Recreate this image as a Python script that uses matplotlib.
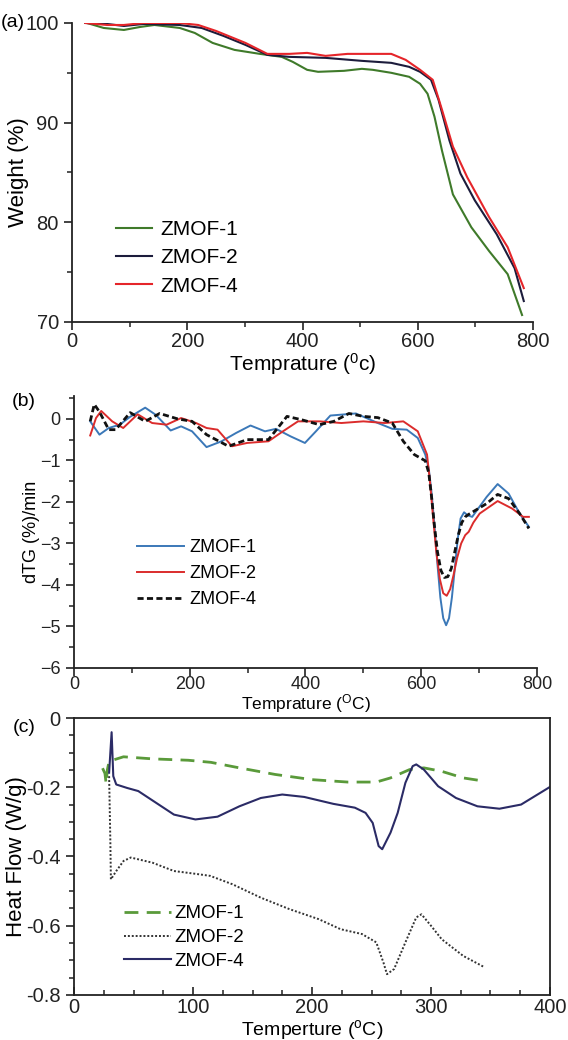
import matplotlib
matplotlib.use("Agg")
import matplotlib.pyplot as plt
from matplotlib.ticker import MultipleLocator

plt.rcParams['font.family'] = ['Liberation Sans', 'DejaVu Sans']
plt.rcParams['mathtext.fontset'] = 'custom'
plt.rcParams['mathtext.rm'] = 'Liberation Sans'
plt.rcParams['mathtext.default'] = 'regular'

## (a) TGA weight loss
tga1_t = [26, 55, 90, 118, 143, 187, 213, 244, 282, 326, 364, 383, 408, 427, 472, 503, 522,
          554, 585, 604, 617, 629, 642, 661, 693, 724, 756, 781]
tga1_w = [100.0, 99.5, 99.3, 99.6, 99.8, 99.5, 99.0, 98.0, 97.3, 96.9, 96.6, 96.1, 95.3, 95.1,
          95.2, 95.4, 95.3, 95.0, 94.6, 93.9, 92.9, 90.6, 87.2, 82.8, 79.5, 77.1, 74.8, 70.7]
tga2_t = [23, 61, 90, 124, 187, 225, 263, 301, 339, 377, 440, 503, 554, 585, 604, 623, 636,
          655, 674, 699, 737, 768, 784]
tga2_w = [100.0, 99.9, 99.7, 99.9, 99.8, 99.5, 98.7, 97.8, 96.8, 96.6, 96.5, 96.2, 96.0, 95.6,
          95.1, 94.3, 92.3, 88.2, 84.9, 82.2, 78.8, 75.4, 72.1]
tga4_t = [23, 61, 90, 124, 187, 219, 250, 301, 339, 377, 408, 440, 478, 554, 579, 604, 626,
          642, 661, 686, 724, 756, 784]
tga4_w = [100.0, 99.8, 99.8, 100.0, 100.0, 99.8, 99.2, 98.0, 96.9, 96.9, 97.0, 96.7, 96.9,
          96.9, 96.3, 95.3, 94.3, 91.3, 87.6, 84.5, 80.5, 77.5, 73.4]

## (b) derivative curves
dtg1_t = [28, 44, 60, 79, 97, 123, 141, 167, 185, 204, 229, 255, 280, 305, 330, 349, 374, 399,
          418, 443, 487, 525, 550, 575, 594, 607, 613, 618, 623, 628, 633, 638, 643, 648, 653,
          658, 663, 668, 674, 680, 688, 713, 732, 751, 770, 786]
dtg1_v = [-0.06, -0.38, -0.22, -0.14, 0.05, 0.27, 0.1, -0.28, -0.18, -0.3, -0.68, -0.54, -0.34,
          -0.16, -0.3, -0.24, -0.42, -0.58, -0.3, 0.08, 0.13, -0.1, -0.24, -0.26, -0.46, -0.86,
          -1.2, -1.8, -2.6, -3.5, -4.3, -4.8, -4.97, -4.8, -4.3, -3.6, -2.9, -2.4, -2.25, -2.32,
          -2.36, -1.88, -1.57, -1.8, -2.28, -2.6]
dtg2_t = [28, 38, 47, 66, 85, 110, 135, 160, 185, 211, 229, 248, 273, 299, 336, 361, 387, 424,
          462, 500, 537, 569, 594, 610, 615, 620, 626, 632, 638, 644, 650, 656, 662, 669, 676,
          682, 690, 701, 732, 757, 776, 786]
dtg2_v = [-0.4, 0.02, 0.19, -0.06, -0.22, 0.11, -0.1, -0.14, 0.02, -0.1, -0.22, -0.26, -0.66,
          -0.58, -0.54, -0.3, -0.06, -0.06, -0.1, -0.06, -0.1, -0.06, -0.3, -0.86, -1.5, -2.3,
          -3.2, -3.85, -4.2, -4.26, -4.1, -3.75, -3.35, -3.0, -2.8, -2.72, -2.5, -2.28, -1.98,
          -2.16, -2.36, -2.36]
dtg4_t = [28, 35, 44, 60, 72, 97, 123, 148, 179, 204, 229, 267, 299, 336, 368, 393, 424, 449,
          475, 500, 525, 550, 569, 588, 607, 613, 618, 623, 628, 634, 640, 646, 652, 658, 664,
          670, 676, 682, 713, 732, 751, 770, 786]
dtg4_v = [-0.06, 0.35, 0.17, -0.26, -0.26, 0.15, -0.06, 0.13, 0.0, -0.06, -0.38, -0.66, -0.5,
          -0.5, 0.06, -0.02, -0.14, -0.06, 0.13, 0.06, 0.03, -0.1, -0.54, -0.86, -1.01, -1.3,
          -1.9, -2.6, -3.2, -3.65, -3.82, -3.8, -3.6, -3.2, -2.8, -2.5, -2.36, -2.3, -2.04,
          -1.82, -1.92, -2.28, -2.64]

## (c) DSC heat flow
dsc1_t = [24, 26, 27, 28, 29.5, 41.6, 66, 96, 115, 139, 169, 200, 230, 254, 266, 282, 294,
          309, 327, 344]
dsc1_v = [-0.145, -0.16, -0.19, -0.15, -0.125, -0.112, -0.118, -0.122, -0.128, -0.144, -0.163,
          -0.178, -0.185, -0.185, -0.173, -0.149, -0.144, -0.154, -0.173, -0.182]
dsc2_t = [29.5, 30.5, 31, 35.5, 41.6, 47.7, 66, 84, 102, 114.5, 133, 157, 181, 205.6, 224, 242,
          254, 260, 263, 269, 278.5, 287.6, 292, 300, 309, 327, 345]
dsc2_v = [-0.168, -0.35, -0.466, -0.442, -0.413, -0.403, -0.418, -0.442, -0.45, -0.456, -0.48,
          -0.519, -0.552, -0.581, -0.61, -0.624, -0.648, -0.706, -0.74, -0.725, -0.648, -0.576,
          -0.567, -0.6, -0.639, -0.687, -0.72]
dsc4_t = [29.5, 31.6, 33, 35.5, 44.6, 54, 69, 84, 102, 120.6, 139, 157, 175, 193.5, 218, 236,
          245, 251, 256, 259, 266, 272, 278.5, 284.6, 287.6, 294, 306, 321, 339, 357.5, 375.7,
          400]
dsc4_v = [-0.158, -0.041, -0.168, -0.192, -0.202, -0.211, -0.245, -0.279, -0.293, -0.285,
          -0.255, -0.231, -0.221, -0.228, -0.248, -0.259, -0.274, -0.303, -0.37, -0.379, -0.331,
          -0.274, -0.187, -0.139, -0.134, -0.149, -0.197, -0.231, -0.255, -0.262, -0.25, -0.199]

labels = ['ZMOF-1', 'ZMOF-2', 'ZMOF-4']


def style_axis(ax, tick_size, inward_x=False):
    for s in ['left', 'bottom', 'top', 'right']:
        ax.spines[s].set_linewidth(1.3)
        ax.spines[s].set_color('#222222')
    ax.tick_params(which='major', length=6, width=1.2, labelsize=tick_size, colors='#222222')
    ax.tick_params(which='minor', length=3.5, width=1.1, colors='#222222')
    if inward_x:
        ax.tick_params(axis='x', which='both', direction='in')


def place_labels(ax, xlabel, ylabel, xsize, ysize, xy, yx):
    ax.set_xlabel(xlabel, fontsize=xsize)
    ax.set_ylabel(ylabel, fontsize=ysize)
    ax.xaxis.set_label_coords(0.5, xy)
    ax.yaxis.set_label_coords(yx, 0.5)
    ax.xaxis.label.set_va('center')
    ax.yaxis.label.set_va('center')


def main():
    fig = plt.figure(figsize=(5.68, 10.4), dpi=100)

    ## panel a
    ax1 = fig.add_axes([0.1268, 0.6904, 0.8116, 0.2875])
    ax1.plot(tga1_t, tga1_w, color='#3f7a2a', lw=1.5, label=labels[0])
    ax1.plot(tga2_t, tga2_w, color='#1c1c3c', lw=1.5, label=labels[1])
    ax1.plot(tga4_t, tga4_w, color='#e5252a', lw=1.5, label=labels[2])
    ax1.set_xlim(0, 800)
    ax1.set_ylim(70, 100)
    ax1.set_xticks([0, 200, 400, 600, 800])
    ax1.set_yticks([70, 80, 90, 100])
    ax1.xaxis.set_minor_locator(MultipleLocator(100))
    ax1.yaxis.set_minor_locator(MultipleLocator(5))
    ax1.spines['top'].set_visible(False)
    ax1.spines['right'].set_visible(False)
    style_axis(ax1, 14.5)
    ax1.tick_params(axis='x', pad=1)
    place_labels(ax1, 'Temprature ($^{0}$c)', 'Weight (%)', 15, 16, -0.142, -0.117)
    ax1.legend(loc='lower left', bbox_to_anchor=(0.055, 0.025), frameon=False, fontsize=15,
               handlelength=1.7, handletextpad=0.4, labelspacing=0.45)
    fig.text(0.002, 0.978, '(a)', fontsize=14, ha='left', va='center')

    ## panel b
    ax2 = fig.add_axes([0.1303, 0.3577, 0.8151, 0.2615])
    ax2.plot(dtg1_t, dtg1_v, color='#3b78b8', lw=1.4, label=labels[0])
    ax2.plot(dtg2_t, dtg2_v, color='#db2c2c', lw=1.4, label=labels[1])
    ax2.plot(dtg4_t, dtg4_v, color='#111111', lw=2.0, ls=(0, (2.2, 1.2)), label=labels[2])
    ax2.set_xlim(0, 800)
    ax2.set_ylim(-6, 0.55)
    ax2.set_xticks([0, 200, 400, 600, 800])
    ax2.set_yticks([0, -1, -2, -3, -4, -5, -6])
    ax2.xaxis.set_minor_locator(MultipleLocator(100))
    ax2.yaxis.set_minor_locator(MultipleLocator(0.5))
    ax2.spines['top'].set_visible(False)
    ax2.spines['right'].set_visible(False)
    style_axis(ax2, 13)
    ax2.tick_params(axis='x', pad=0)
    place_labels(ax2, 'Temprature ($^{O}$C)', 'dTG (%)/min', 12.5, 13, -0.132, -0.092)
    ax2.legend(loc='lower left', bbox_to_anchor=(0.1, 0.16), frameon=False, fontsize=13,
               handlelength=2.6, handletextpad=0.3, labelspacing=0.5)
    fig.text(0.02, 0.614, '(b)', fontsize=14, ha='left', va='center')

    ## panel c
    ax3 = fig.add_axes([0.1303, 0.0433, 0.838, 0.2663])
    ax3.plot(dsc1_t, dsc1_v, color='#5a9a3a', lw=2.0, ls=(0, (5, 3)), label=labels[0])
    ax3.plot(dsc2_t, dsc2_v, color='#333333', lw=1.4, ls=(0, (1, 1)), label=labels[1])
    ax3.plot(dsc4_t, dsc4_v, color='#2b2b66', lw=1.5, label=labels[2])
    ax3.set_xlim(0, 400)
    ax3.set_ylim(-0.8, 0)
    ax3.set_xticks([0, 100, 200, 300, 400])
    ax3.set_yticks([0, -0.2, -0.4, -0.6, -0.8])
    ax3.set_yticklabels(['0', '-0.2', '-0.4', '-0.6', '-0.8'])
    ax3.xaxis.set_minor_locator(MultipleLocator(25))
    ax3.yaxis.set_minor_locator(MultipleLocator(0.05))
    style_axis(ax3, 14.5, inward_x=True)
    ax3.tick_params(axis='x', pad=2)
    place_labels(ax3, 'Temperture ($^{o}$C)', 'Heat Flow (W/g)', 14, 16, -0.125, -0.12)
    ax3.legend(loc='lower left', bbox_to_anchor=(0.07, 0.03), frameon=False, fontsize=13.5,
               handlelength=2.5, handletextpad=0.15, labelspacing=0.35)
    fig.text(0.022, 0.3, '(c)', fontsize=14, ha='left', va='center')

    fig.savefig('out.png', dpi=100)


if __name__ == '__main__':
    main()
